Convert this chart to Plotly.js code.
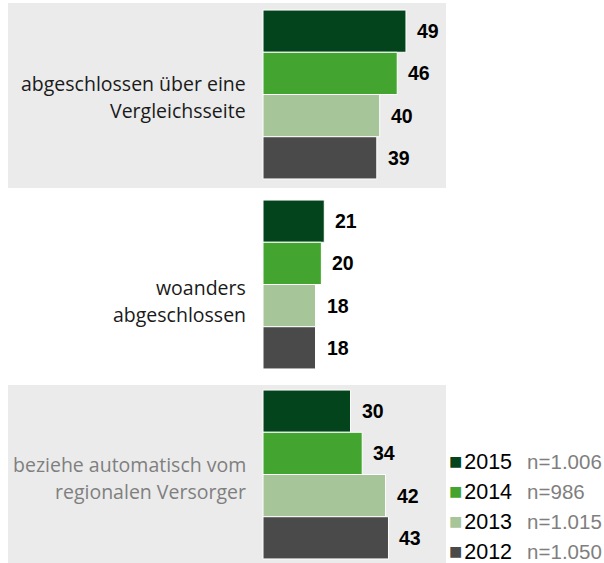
<!DOCTYPE html>
<html>
<head>
<meta charset="utf-8">
<script src="https://cdn.plot.ly/plotly-3.0.1.min.js"></script>
<style>html,body{margin:0;padding:0;background:#fff;}#chart{width:604px;height:563px;}</style>
</head>
<body>
<div id="chart"></div>
<script>
// ---- data ----
const categories = ["abgeschlossen über eine<br>Vergleichsseite", "woanders<br>abgeschlossen", "beziehe automatisch vom<br>regionalen Versorger"];
const years = ["2015", "2014", "2013", "2012"];
const sampleSizes = ["n=1.006", "n=986", "n=1.015", "n=1.050"];
const values2015 = [49, 21, 30];
const values2014 = [46, 20, 34];
const values2013 = [40, 18, 42];
const values2012 = [39, 18, 43];

// ---- styles ----
const seriesValues = [values2015, values2014, values2013, values2012];
const colors = ["#03441c", "#43a52f", "#a6c69a", "#4a4a4a"];
const labelColors = ["#1a1a1a", "#1a1a1a", "#7f7f7f"];
const labelDrop = [2, 16, 3];     // px the category labels sit below the group centre
const bargap = 0.111;
const W = 604, H = 563;

const traces = years.map((yr, k) => ({
  type: "bar",
  orientation: "h",
  name: yr,
  y: categories,
  x: seriesValues[k],
  marker: {color: colors[k], line: {color: "#ffffff", width: 1}},
  hoverinfo: "none",
  showlegend: false
}));

const annotations = [];
// value labels, placed at the bar ends through the axes
const nS = years.length;
const slot = (1 - bargap) / nS;
years.forEach((yr, k) => {
  seriesValues[k].forEach((v, i) => {
    annotations.push({
      xref: "x", yref: "y",
      x: v, y: i - (1 - bargap) / 2 + slot / 2 + k * slot,
      text: String(v),
      showarrow: false, xanchor: "left", yanchor: "middle", xshift: 9,
      font: {family: "Liberation Sans, Arial, sans-serif", size: 19.5, color: "#000", weight: 700}
    });
  });
});
// category labels
categories.forEach((c, i) => {
  const lines = c.split("<br>");
  lines.forEach((ln, j) => {
    annotations.push({
      xref: "paper", yref: "y",
      x: 248 / W, y: i,
      yshift: -((j - (lines.length - 1) / 2) * 27) - labelDrop[i],
      text: ln, showarrow: false, xanchor: "right", yanchor: "middle",
      font: {family: "Open Sans, sans-serif", size: 19.5, color: labelColors[i]}
    });
  });
});
// legend rows
years.forEach((yr, k) => {
  annotations.push({
    xref: "paper", yref: "paper",
    x: 447 / W, y: 1 - (461 + k * 30) / H,
    xanchor: "left", yanchor: "middle", showarrow: false,
    text: '<span style="color:' + colors[k] + ';font-size:22px">■</span><span style="font-size:7px">&nbsp;</span>' + yr +
          '<span style="font-size:18px">&nbsp;&nbsp;&nbsp;</span><span style="color:#7f7f7f;font-size:20.5px">' + sampleSizes[k] + '</span>',
    font: {family: "Liberation Sans, Arial, sans-serif", size: 21.5, color: "#000"}
  });
});

const layout = {
  width: W, height: H,
  margin: {l: 0, r: 0, t: 0, b: 0, pad: 0},
  paper_bgcolor: "#ffffff",
  plot_bgcolor: "rgba(0,0,0,0)",
  barmode: "group",
  bargap: bargap,
  bargroupgap: 0,
  showlegend: false,
  xaxis: {range: [-263 / 2.918, (W - 263) / 2.918], visible: false, fixedrange: true},
  yaxis: {type: "category", range: [(H - 94.5) / 190, -94.5 / 190], visible: false, fixedrange: true},
  shapes: [
    {type: "rect", xref: "paper", yref: "y", x0: 8 / W, x1: 446 / W, y0: -0.482, y1: 0.492,
     fillcolor: "#ebebeb", line: {width: 0}, layer: "below"},
    {type: "rect", xref: "paper", yref: "y", x0: 8 / W, x1: 446 / W, y0: 1.529, y1: 2.6,
     fillcolor: "#ebebeb", line: {width: 0}, layer: "below"}
  ],
  annotations: annotations
};

Plotly.newPlot("chart", traces, layout, {displayModeBar: false, staticPlot: true});
</script>
</body>
</html>
